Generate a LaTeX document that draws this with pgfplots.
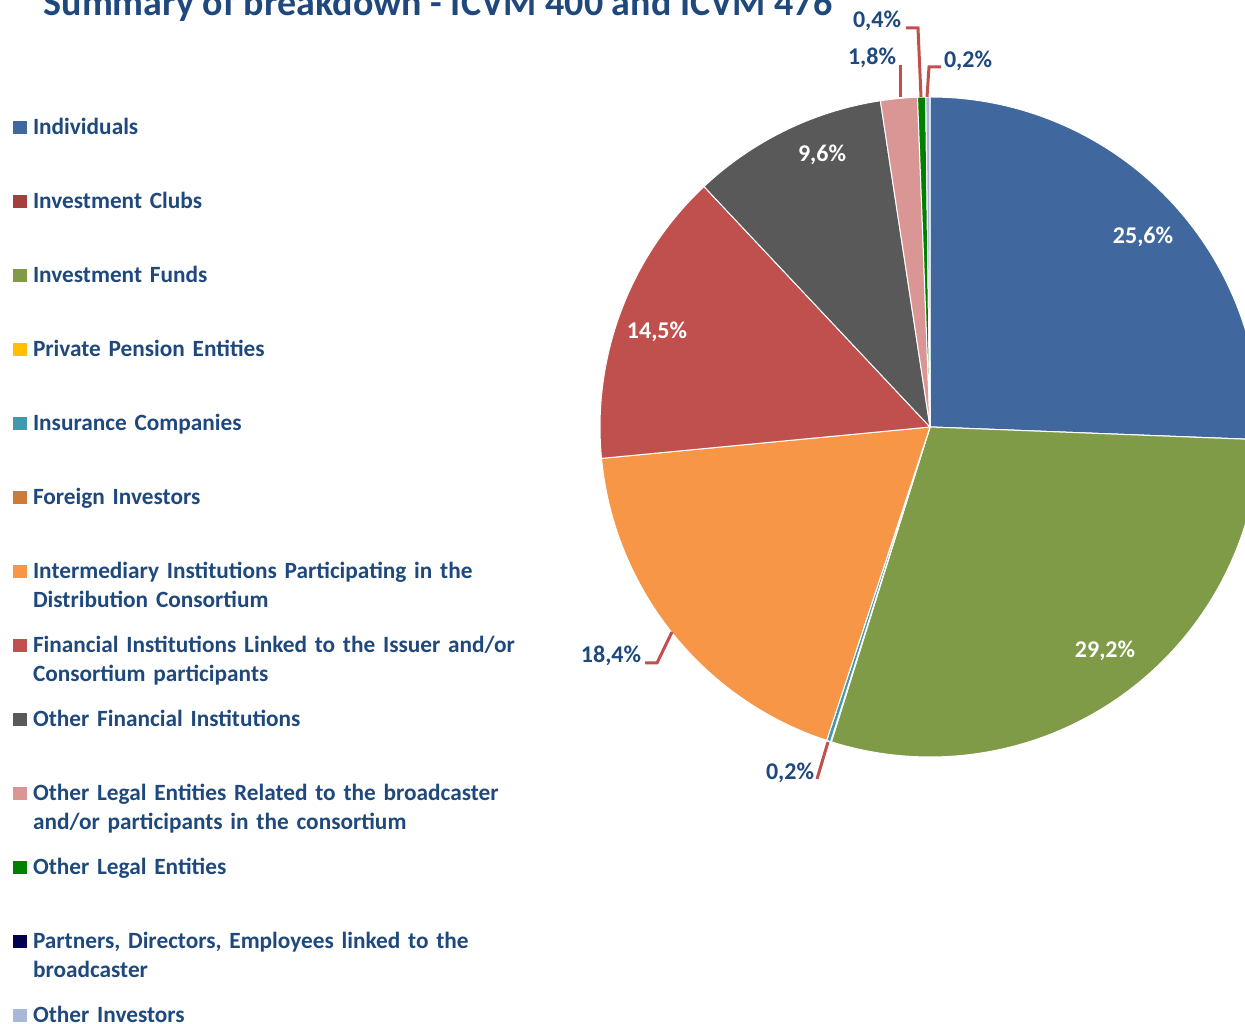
\documentclass[border=0pt]{standalone}
\usepackage{pgfplots}
\pgfplotsset{compat=1.18}
\usepackage{pgfplotstable}
\usepackage{fontspec}
\setmainfont{Carlito}

\definecolor{txt}{HTML}{1F497D}
\definecolor{lead}{HTML}{C0504D}
\definecolor{cInd}{HTML}{41689E}
\definecolor{cClub}{HTML}{A43F3E}
\definecolor{cFund}{HTML}{7F9B48}
\definecolor{cPens}{HTML}{FFC000}
\definecolor{cIns}{HTML}{4198AF}
\definecolor{cFor}{HTML}{CC7B38}
\definecolor{cInt}{HTML}{F79646}
\definecolor{cFinL}{HTML}{C0504D}
\definecolor{cOFin}{HTML}{595959}
\definecolor{cOLR}{HTML}{D99694}
\definecolor{cOL}{HTML}{008000}
\definecolor{cPart}{HTML}{00004F}
\definecolor{cOInv}{HTML}{A9B8D9}

% share of each investor type, in %
\pgfplotstableread[col sep=comma]{
group,share,colour
Individuals,25.6,cInd
Investment Clubs,0,cClub
Investment Funds,29.2,cFund
Private Pension Entities,0.04,cPens
Insurance Companies,0.2,cIns
Foreign Investors,0,cFor
Intermediary Institutions,18.4,cInt
Financial Institutions Linked,14.5,cFinL
Other Financial Institutions,9.6,cOFin
Other Legal Entities Related,1.8,cOLR
Other Legal Entities,0.4,cOL
Partners Directors Employees,0,cPart
Other Investors,0.2,cOInv
}\piedata

% total, then one wedge per row (clockwise from 12 o'clock)
\gdef\total{0}
\pgfplotstableforeachcolumnelement{share}\of\piedata\as\v{%
  \pgfmathparse{\total+\v}\xdef\total{\pgfmathresult}}
\gdef\slices{}
\gdef\angA{90}
\pgfplotstableforeachcolumnelement{share}\of\piedata\as\v{%
  \pgfplotstablegetelem{\pgfplotstablerow}{colour}\of\piedata
  \let\col\pgfplotsretval
  \pgfmathparse{\angA-\v/\total*360}\let\angB\pgfmathresult
  \xdef\slices{\slices
    \noexpand\fill[\col, draw=white, line width=1pt] (axis cs:930,597)
      -- ++(\angA:330pt) arc[start angle=\angA, end angle=\angB, radius=330pt] -- cycle;}
  \xdef\angA{\angB}}

\tikzset{lg/.style={anchor=base west, inner sep=0pt, text width=500pt,
  text height=15pt, text depth=59pt, align=left}}

\begin{document}
\begin{tikzpicture}
\begin{axis}[
  x=1pt, y=1pt,
  xmin=0, xmax=1245, ymin=0, ymax=1024,
  hide axis, clip=true,
  legend image code/.code={\path[#1, draw=none] (0pt,0.5pt) rectangle (13.5pt,14pt);},
  legend style={
    draw=none, fill=none, inner sep=0pt, outer sep=0pt,
    at={(axis cs:13,904)}, anchor=north west,
    row sep=0pt, column sep=6.5pt,
    font=\fontsize{23.3}{29}\selectfont\bfseries,
    text=txt,
    cells={anchor=base west}
  }
]
\slices

\addlegendimage{fill=cInd}  \addlegendentry[lg]{Individuals}
\addlegendimage{fill=cClub} \addlegendentry[lg]{Investment Clubs}
\addlegendimage{fill=cFund} \addlegendentry[lg]{Investment Funds}
\addlegendimage{fill=cPens} \addlegendentry[lg]{Private Pension Entities}
\addlegendimage{fill=cIns}  \addlegendentry[lg]{Insurance Companies}
\addlegendimage{fill=cFor}  \addlegendentry[lg]{Foreign Investors}
\addlegendimage{fill=cInt}  \addlegendentry[lg]{Intermediary Institutions Participating in the\\Distribution Consortium}
\addlegendimage{fill=cFinL} \addlegendentry[lg]{Financial Institutions Linked to the Issuer and/or\\Consortium participants}
\addlegendimage{fill=cOFin} \addlegendentry[lg]{Other Financial Institutions}
\addlegendimage{fill=cOLR}  \addlegendentry[lg]{Other Legal Entities Related to the broadcaster\\and/or participants in the consortium}
\addlegendimage{fill=cOL}   \addlegendentry[lg]{Other Legal Entities}
\addlegendimage{fill=cPart} \addlegendentry[lg]{Partners, Directors, Employees linked to the\\broadcaster}
\addlegendimage{fill=cOInv} \addlegendentry[lg]{Other Investors}

% leader lines
\draw[lead, line width=3pt] (axis cs:645,361) -- (axis cs:657,361) -- (axis cs:672,392);
\draw[lead, line width=3pt] (axis cs:817,245) -- (axis cs:828,282);
\draw[lead, line width=3pt] (axis cs:900,959) -- (axis cs:900,927);
\draw[lead, line width=3pt] (axis cs:906,996) -- (axis cs:918,996) -- (axis cs:921,927);
\draw[lead, line width=3pt] (axis cs:941,957) -- (axis cs:929,957) -- (axis cs:927,927);

% data labels
\begin{scope}[font=\fontsize{24}{28}\selectfont\bfseries]
\node[text=white] at (axis cs:1143,787) {25,6\%};
\node[text=white] at (axis cs:1105,373) {29,2\%};
\node[text=white] at (axis cs:657,692) {14,5\%};
\node[text=white] at (axis cs:822,869) {9,6\%};
\node[text=txt] at (axis cs:611,368) {18,4\%};
\node[text=txt] at (axis cs:790,251) {0,2\%};
\node[text=txt] at (axis cs:872,966) {1,8\%};
\node[text=txt] at (axis cs:877,1003) {0,4\%};
\node[text=txt] at (axis cs:968,963) {0,2\%};
\end{scope}

\node[anchor=base, text=txt, font=\fontsize{38}{42}\selectfont\bfseries]
  at (axis cs:438,1008) {Summary of breakdown - ICVM 400 and ICVM 476};
\end{axis}
\pgfresetboundingbox
\useasboundingbox (0,0) rectangle (1245pt,1024pt);
\end{tikzpicture}
\end{document}
